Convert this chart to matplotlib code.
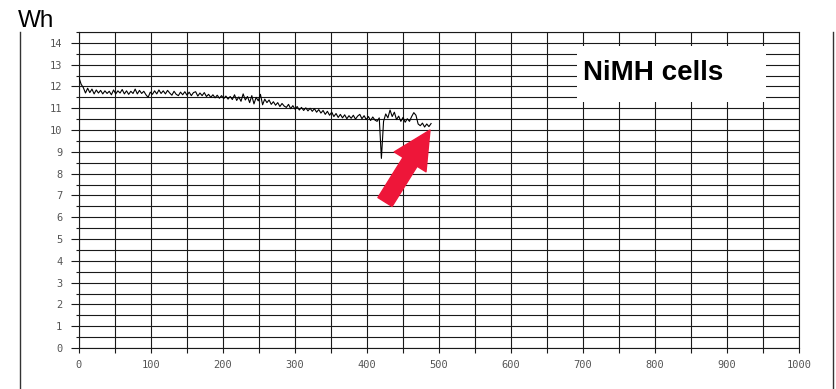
import numpy as np
import matplotlib.pyplot as plt
from matplotlib.lines import Line2D
from matplotlib.patches import Rectangle
from matplotlib.ticker import MultipleLocator

plt.rcParams['font.family'] = ['Liberation Sans', 'DejaVu Sans']

# ----- 데이터 -----
cycles = np.arange(0, 490, 3)
energy_wh = [
    12.40, 12.10, 11.95, 11.70, 11.92, 11.72, 11.88, 11.66, 11.84, 11.70,
    11.82, 11.66, 11.80, 11.68, 11.78, 11.62, 11.84, 11.66, 11.80, 11.70,
    11.86, 11.66, 11.80, 11.64, 11.78, 11.68, 11.88, 11.66, 11.82, 11.68,
    11.78, 11.62, 11.50, 11.74, 11.64, 11.80, 11.66, 11.84, 11.68, 11.80,
    11.66, 11.82, 11.70, 11.60, 11.78, 11.64, 11.58, 11.74, 11.62, 11.76,
    11.60, 11.74, 11.58, 11.72, 11.76, 11.56, 11.70, 11.58, 11.72, 11.54,
    11.64, 11.50, 11.62, 11.48, 11.60, 11.46, 11.58, 11.44, 11.56, 11.42,
    11.54, 11.40, 11.62, 11.36, 11.52, 11.32, 11.66, 11.38, 11.54, 11.26,
    11.58, 11.20, 11.50, 11.34, 11.64, 11.16, 11.42, 11.26, 11.38, 11.18,
    11.30, 11.14, 11.26, 11.08, 11.22, 11.10, 11.04, 11.18, 10.98, 11.12,
    10.96, 11.08, 10.92, 11.04, 10.90, 11.02, 10.88, 11.00, 10.86, 10.98,
    10.82, 10.94, 10.78, 10.90, 10.72, 10.86, 10.68, 10.82, 10.62, 10.76,
    10.58, 10.72, 10.56, 10.70, 10.52, 10.66, 10.54, 10.68, 10.50, 10.64,
    10.72, 10.52, 10.66, 10.48, 10.62, 10.44, 10.60, 10.46, 10.40, 10.56,
    8.70, 10.40, 10.74, 10.56, 10.92, 10.62, 10.82, 10.48, 10.64, 10.40,
    10.58, 10.36, 10.52, 10.40, 10.62, 10.80, 10.68, 10.28, 10.20, 10.32,
    10.14, 10.28, 10.16, 10.30,
]
x_ticks = list(range(0, 1001, 100))
y_ticks = list(range(0, 15))
label_text = 'NiMH cells'
unit_text = 'Wh'

# ----- 그림 -----
fig = plt.figure(figsize=(8.37, 3.89), dpi=100)
ax = fig.add_axes([79 / 837, 41 / 389, 720 / 837, 316 / 389])

ax.set_xlim(0, 1000)
ax.set_ylim(0, 14.5)
ax.xaxis.set_major_locator(MultipleLocator(100))
ax.xaxis.set_minor_locator(MultipleLocator(50))
ax.yaxis.set_major_locator(MultipleLocator(1))
ax.yaxis.set_minor_locator(MultipleLocator(0.5))
ax.set_xticks(x_ticks)
ax.set_yticks(y_ticks)

ax.grid(True, which='both', color='#1a1a1a', linewidth=0.8)
ax.set_axisbelow(True)
for sp in ax.spines.values():
    sp.set_color('#1a1a1a')
    sp.set_linewidth(0.8)

ax.tick_params(axis='y', which='major', length=6, width=0.8, pad=6,
               labelsize=7.5, labelcolor='#555555', color='#1a1a1a')
ax.tick_params(axis='y', which='minor', length=2.2, width=0.8, color='#1a1a1a')
ax.tick_params(axis='x', which='both', length=3.6, width=0.8, pad=5,
               labelsize=7.5, labelcolor='#555555', color='#1a1a1a')
for lbl in ax.get_xticklabels() + ax.get_yticklabels():
    lbl.set_family('DejaVu Sans Mono')

ax.plot(cycles, energy_wh, color='black', linewidth=0.8, zorder=3)

# 흰 라벨 상자
ax.add_patch(Rectangle((692, 11.3), 261.5, 2.55, facecolor='white',
                       edgecolor='none', zorder=4))
ax.text(700, 12.62, label_text, fontsize=20, fontweight='bold',
        ha='left', va='center', zorder=5)

# 빨간 화살표
ax.annotate('', xy=(487.5, 10.0), xytext=(425, 6.7),
            arrowprops=dict(arrowstyle='simple,tail_width=0.6,head_width=1.35,head_length=1.35',
                            mutation_scale=20, color='#ee1639',
                            shrinkA=0, shrinkB=0), zorder=6)

fig.text(18 / 837, 1 - 27 / 389, unit_text, fontsize=17.5, ha='left', va='baseline')

# 바깥 틀
fig.add_artist(Line2D([20 / 837, 20 / 837], [0, 1 - 32 / 389], color='#333333', linewidth=1))
fig.add_artist(Line2D([833 / 837, 833 / 837], [0, 1 - 32 / 389], color='#333333', linewidth=1))

fig.savefig('out.png', dpi=100)
